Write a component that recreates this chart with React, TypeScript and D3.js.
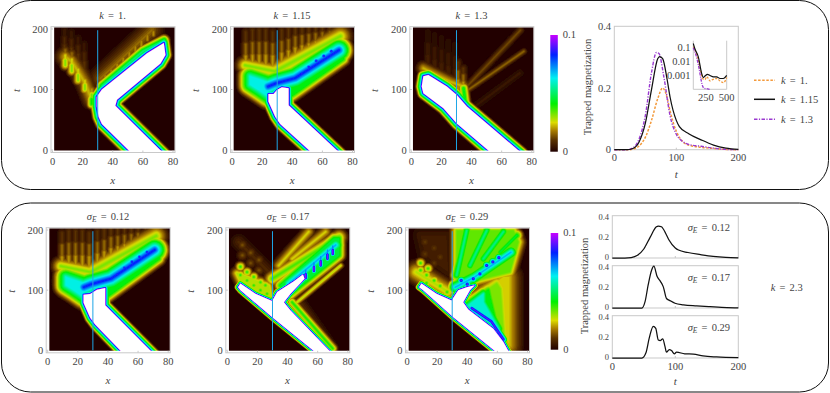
import React from "react";
import * as d3 from "d3";

type P = [number, number];
type Shape = { pts: P[]; peak: number; spread: number; closed?: boolean; core?: boolean };
const core = (pts: P[], spread: number): Shape => ({ pts, peak: 1.02, spread, closed: true, core: true });
const area = (pts: P[], peak: number, spread: number): Shape => ({ pts, peak, spread, closed: true });
const ridge = (pts: P[], peak: number, spread: number): Shape => ({ pts, peak, spread });
// each streak fades from its base (second t) to its tip (first t), in three tiers
const streaks = (list: [number, number, number][], peak: number, spread: number): Shape[] =>
  list.flatMap(([x, a, b]) => [
    { pts: [[x, a], [x, b]] as P[], peak: peak * 0.5, spread },
    { pts: [[x, b + (a - b) * 0.66], [x, b]] as P[], peak: peak * 0.78, spread },
    { pts: [[x, b + (a - b) * 0.33], [x, b]] as P[], peak, spread },
  ]);
const dots = (list: P[], peak: number, spread: number): Shape[] =>
  list.map((p) => ({ pts: [p, p] as P[], peak, spread }));

const colorStops = [0, 0.1, 0.18, 0.25, 0.41, 0.63, 0.83, 1];
const colorValues = ["#200000", "#5a3200", "#a87c00", "#dcdc00", "#00f000", "#00f0f0", "#0020ff", "#c800ff"];

const k100Shapes: Shape[] = [
  ...streaks([[8, 198, 160], [12.5, 195, 155], [17, 185, 145], [21, 175, 130]], 0.11, 2.2),
  ridge([[8.3, 154], [12.8, 146], [17.2, 129], [21.7, 110], [26, 83]], 0.24, 4.5),
  ...streaks([[8.5, 165, 140], [12.8, 160, 130], [17, 142, 115], [21.5, 122, 100]], 0.34, 2.6),
  ...streaks([[26, 100, 76]], 0.44, 2.6),
  ridge([[31.7, 118], [66, 198]], 0.17, 5.5),
  ...streaks([[35, 137, 115], [39, 146, 124], [43, 156, 134], [47, 166, 144], [51, 175, 153], [55, 185, 163], [59, 194, 172], [63, 202, 182], [67, 205, 190]], 0.21, 1.9),
  ridge([[33, 106], [60, 163], [74, 181]], 0.55, 2.8),
  core([[52.8, -6], [32.8, 43], [30.6, 55], [29.4, 72], [29.4, 88], [32.8, 100], [62.8, 160], [73.9, 177], [75, 157], [71.7, 143], [42.8, 83], [41.7, 73], [73.9, -6]], 2.8),
];

const k115Shapes: Shape[] = [
  ...streaks([[9.1, 195, 135], [13.6, 198, 135], [18, 198, 135], [22.4, 198, 135], [27, 195, 135], [33, 198, 140], [37.5, 200, 145], [42, 205, 150], [46.5, 205, 155], [51, 205, 160], [55.5, 205, 165], [60, 205, 170], [65, 205, 175]], 0.22, 2.3),
  ridge([[8.7, 140], [28.7, 130]], 0.34, 4.5),
  ridge([[28.7, 130], [72, 188]], 0.34, 5.5),
  area([[33, 116], [71, 176], [74, 176], [74, 150], [40, 90]], 0.43, 3.2),
  area([[12, 122], [24, 112], [24, 88], [17.6, 99], [12, 108]], 0.62, 5.5),
  ...dots([[12, 125], [16.5, 122], [21, 118], [25.5, 114], [30, 113]], 0.5, 3),
  ridge([[24, 105], [29, 110], [42, 119], [71, 165]], 0.86, 6.2),
  ...dots([[46, 126], [51, 137], [56, 147], [61, 155], [66, 163]], 0.92, 2.8),
  core([[53.6, -6], [32, 43], [28.7, 55], [24.2, 80], [24.2, 92.6], [27.6, 92.6], [29.8, 99], [33.1, 103.6], [37.6, 102], [37.6, 74], [72, -6]], 2.6),
];

const k130Shapes: Shape[] = [
  ...streaks([[11, 195, 135], [15.5, 190, 125], [20, 185, 120], [24.5, 180, 115], [29, 175, 110]], 0.08, 2.2),
  ...streaks([[31, 145, 100], [34.5, 135, 100]], 0.22, 2.2),
  ridge([[8, 135], [25.8, 113], [34.7, 105]], 0.24, 3.5),
  ridge([[35.8, 102], [72.4, 198]], 0.14, 1.9),
  ridge([[35.8, 96], [74.7, 163]], 0.17, 1.6),
  ridge([[39, 66], [72, 127]], 0.05, 2.4),
  ridge([[34.7, 102], [35.8, 80]], 0.46, 2.6),
  core([[73.6, -6], [36.9, 72], [30.2, 91], [23.6, 105], [11.3, 124], [8, 122], [6.9, 105], [8, 94], [21.3, 69], [30.2, 44], [53.6, -6]], 2.7),
];

const sigma12Shapes: Shape[] = [
  ...streaks([[9.5, 195, 135], [14, 198, 135], [18.5, 198, 135], [23, 198, 135], [27.5, 195, 135], [33, 198, 140], [37.5, 200, 145], [42, 205, 150], [46.5, 205, 155], [51, 205, 160], [55.5, 205, 165], [60, 205, 170], [65, 205, 175]], 0.22, 2.3),
  ridge([[8.7, 140], [28.7, 130]], 0.34, 4.5),
  ridge([[28.7, 130], [72, 190]], 0.34, 5.5),
  area([[33, 116], [71, 178], [74, 178], [74, 152], [40, 90]], 0.43, 3.2),
  area([[12, 122], [24, 112], [24, 88], [17.6, 99], [12, 108]], 0.62, 5.5),
  ...dots([[12, 125], [16.5, 122], [21, 118], [25.5, 114], [30, 113]], 0.5, 3),
  ridge([[24, 105], [29, 110], [42, 119], [71, 167]], 0.86, 6.2),
  ...dots([[46, 126], [51, 137], [56, 147], [61, 155], [66, 163]], 0.92, 2.8),
  core([[50.4, -6], [31.5, 43], [28.2, 54], [23.8, 79], [23.8, 92.5], [28.2, 93.6], [32.7, 100.8], [38.2, 103.6], [38.2, 75], [70.4, -6]], 2.5),
];

const sigma17Shapes: Shape[] = [
  ridge([[7.6, 180], [27.6, 130]], 0.09, 4),
  ...dots([[10, 175], [15.5, 162], [21, 150], [10, 158], [15.5, 145], [21, 133]], 0.15, 2.8),
  area([[6.4, 128], [27.5, 107], [28.7, 88], [18.7, 100], [8.7, 116]], 0.3, 3.2),
  ...dots([[8.7, 139], [13.1, 130], [17.6, 122], [22, 113], [8.7, 125], [13.1, 116], [17.6, 108], [22, 100], [26.4, 94], [25.3, 108]], 0.41, 2.6),
  ridge([[34.2, 141], [54, 197]], 0.26, 3.2),
  ridge([[43, 152], [65.3, 197]], 0.26, 3.2),
  ridge([[29.8, 119], [74.2, 188]], 0.38, 4),
  area([[35.3, 108], [70.9, 186], [74.2, 186], [74.2, 158], [42, 94]], 0.46, 3.2),
  area([[44.2, 83], [59.8, 19], [67.6, 0], [53, 52]], 0.14, 4.5),
  ridge([[46.4, 80], [75.3, 141]], 0.3, 1.6),
  ridge([[43, 80], [70, 3]], 0.42, 2.4),
  ridge([[40.9, 111], [72, 175]], 0.72, 4.2),
  ...streaks([[52, 140, 120], [57.5, 152, 132], [62, 163, 141], [66.5, 174, 152], [70, 180, 160]], 1, 1.5),
  core([[59.8, -6], [29.8, 55], [8.7, 100], [7.1, 105], [8.7, 111], [18.7, 94], [29.8, 82], [33.1, 97], [44.2, 115], [50.2, 126], [51.3, 119], [42, 94], [37.6, 80], [42, 66], [69.8, -6]], 1.5),
];

const sigma29Shapes: Shape[] = [
  area([[9, 191], [26.2, 191], [27.3, 130], [12, 158]], 0.06, 4.5),
  ...dots([[12, 180], [18, 170], [12, 160], [22, 155], [18, 145]], 0.12, 3),
  ridge([[6.2, 130], [27.3, 97]], 0.3, 5.5),
  ...dots([[9, 133], [13, 125], [18, 116], [22, 107], [26.6, 97], [13, 112], [9, 145], [14, 136]], 0.41, 2.6),
  area([[33, 199], [70.7, 199], [74, 180], [68.4, 130], [33, 108]], 0.34, 3.5),
  ridge([[33, 125], [39.6, 199]], 0.56, 3.2),
  ridge([[41.8, 141], [52.9, 199]], 0.56, 3.2),
  ridge([[50.7, 152], [64, 197]], 0.56, 3.2),
  ridge([[61.8, 163], [72.9, 191]], 0.48, 3.2),
  area([[41.8, 83], [64, 122], [68, 122], [68, 8], [62, 42], [48.4, 53]], 0.24, 6),
  area([[41.8, 80], [59.6, 111], [61.8, 102], [64, 25], [55, 47], [46, 61]], 0.33, 5),
  area([[41.8, 80], [54, 100], [55, 88], [60, 35], [53, 50], [46, 61]], 0.43, 4),
  area([[40.7, 75], [50.7, 94], [50.7, 80], [60.7, 36], [52.9, 53]], 0.6, 3.5),
  ridge([[32, 105], [45, 122], [69, 163]], 0.72, 3.8),
  ...dots([[36, 116], [44, 119], [48.4, 127], [52.9, 141], [57, 147], [61, 154], [40, 110]], 0.98, 2.2),
  ridge([[43, 70], [56, 48], [64, 18]], 0.95, 2),
  core([[60.7, -6], [30.7, 55], [10.7, 100], [8, 105], [9.6, 111], [19.6, 94], [29.6, 83], [34, 100], [39.6, 105], [45, 108], [41.8, 100], [37.3, 80], [40.7, 68], [57.3, 36], [64, 14], [68.4, -6]], 1.5),
];

const kSeries100: P[] = [[0, 0], [25, 0], [30, 0.002], [40, 0.012], [50, 0.04], [60, 0.095], [70, 0.165], [78, 0.2], [85, 0.17], [90, 0.125], [100, 0.06], [110, 0.027], [120, 0.015], [140, 0.008], [160, 0.004], [180, 0.001], [200, 0]];
const kSeries115: P[] = [[0, 0], [20, 0], [30, 0.004], [40, 0.025], [50, 0.085], [60, 0.195], [70, 0.295], [73, 0.302], [78, 0.295], [85, 0.23], [90, 0.17], [100, 0.095], [105, 0.075], [120, 0.052], [140, 0.032], [160, 0.015], [180, 0.005], [200, 0.001]];
const kSeries130: P[] = [[0, 0], [20, 0], [30, 0.006], [40, 0.035], [50, 0.11], [60, 0.25], [68, 0.315], [72, 0.312], [80, 0.235], [90, 0.11], [100, 0.05], [110, 0.027], [120, 0.017], [140, 0.011], [160, 0.005], [180, 0.001], [200, 0]];
const inset100: P[] = [[100, 0.12], [130, 0.05], [160, 0.012], [190, 0.002], [210, 0.0006], [240, 0.0005], [260, 0.0008], [280, 0.0006], [300, 0.0004], [330, 0.0005], [380, 0.0006], [420, 0.0004], [460, 0.0003], [490, 0.0005], [500, 0.0007]];
const inset115: P[] = [[100, 0.2], [120, 0.08], [160, 0.022], [200, 0.0014], [220, 0.0007], [240, 0.0009], [270, 0.0012], [300, 0.001], [340, 0.0008], [380, 0.0008], [420, 0.0006], [460, 0.0006], [500, 0.001]];
const inset130: P[] = [[100, 0.1], [140, 0.02], [170, 0.003], [190, 0.0006], [210, 0.00018], [230, 0.00012], [260, 0.00011], [295, 0.0001]];
const sigmaSeries12: P[] = kSeries115;
const sigmaSeries17: P[] = [[0, 0], [47, 0], [52, 0.06], [57, 0.22], [62.5, 0.36], [66, 0.395], [71, 0.3], [76.6, 0.25], [81, 0.2], [86, 0.09], [91.5, 0.07], [99.5, 0.045], [113, 0.03], [134, 0.02], [155, 0.012], [182, 0.003], [200, 0.001]];
const sigmaSeries29: P[] = [[0, 0], [47, 0], [53.4, 0.05], [58.7, 0.19], [65, 0.3], [69, 0.28], [73, 0.17], [76, 0.165], [80, 0.18], [83.6, 0.11], [86, 0.055], [90.5, 0.08], [94, 0.07], [98.5, 0.04], [102, 0.055], [115, 0.04], [128.6, 0.037], [144, 0.02], [165.6, 0.01], [200, 0.003]];

const xTicks = [0, 20, 40, 60, 80];
const tTicks = [0, 100, 200];
const magTicks = [0, 0.2, 0.4];
const insetYTicks = [0.1, 0.01, 0.001];
const insetXTicks = [250, 500];
const kTitles = ["1.", "1.15", "1.3"];
const sigmaTitles = ["0.12", "0.17", "0.29"];

const FONT = "'Liberation Serif', serif";
const INK = "#444";
const FRAME = "#c9c9c9";
const ORANGE = "#f39a3c";
const PURPLE = "#9a3ad0";
const color = d3.scaleLinear<string>().domain(colorStops).range(colorValues).interpolate(d3.interpolateRgb);
const levels = d3.range(0.02, 1.001, 0.02);

function Heat({ id, ox, y0, y200, shapes }: { id: string; ox: number; y0: number; y200: number; shapes: Shape[] }) {
  const xs = d3.scaleLinear().domain([0, 80]).range([ox, ox + 120.5]);
  const ts = d3.scaleLinear().domain([0, 200]).range([y0, y200]);
  const line = d3.line<P>().x((d) => xs(d[0])).y((d) => ts(d[1]));
  const left = xs(1.1), right = xs(81), top = y200 - 1.5, bottom = y0 + 0.5;
  const paths = shapes.map((s) => ({ ...s, d: line(s.pts)! + (s.closed ? "Z" : "") }));
  return (
    <g>
      <rect x={ox - 1.5} y={top - 0.8} width={124} height={bottom - top + 2.8} fill="none" stroke={FRAME} strokeWidth={1} />
      <clipPath id={id}><rect x={left} y={top} width={right - left} height={bottom - top} /></clipPath>
      <g clipPath={`url(#${id})`}>
        <g filter="url(#soft)">
          <rect x={left - 3} y={top - 3} width={right - left + 6} height={bottom - top + 6} fill={color(0)} />
          {levels.map((v) =>
            paths.filter((s) => v <= s.peak).map((s, i) => (
              <path key={v + "-" + i} d={s.d} fill={s.closed ? color(v) : "none"} stroke={color(v)}
                strokeWidth={2 * s.spread * 2.7 * Math.pow(1 - v / s.peak, s.core ? 1.6 : 1)} strokeLinejoin="round" strokeLinecap="round" />
            ))
          )}
          {paths.filter((s) => s.core).map((s, i) => <path key={i} d={s.d} fill="#fff" />)}
        </g>
      </g>
      <line x1={xs(30)} x2={xs(30)} y1={ts(198)} y2={ts(0)} stroke="#1ea5e6" strokeWidth={1} />
      {xTicks.map((v) => (
        <g key={v}>
          <line x1={xs(v)} x2={xs(v)} y1={bottom + 2} y2={bottom} stroke={FRAME} />
          <text x={xs(v)} y={bottom + 14} textAnchor="middle" fontSize={10.5}>{v}</text>
        </g>
      ))}
      {tTicks.map((v) => (
        <g key={v}>
          <line x1={ox - 1.5} x2={ox + 0.5} y1={ts(v)} y2={ts(v)} stroke={FRAME} />
          <text x={ox - 4.5} y={ts(v) + 3.5} textAnchor="end" fontSize={10.5}>{v}</text>
        </g>
      ))}
      <text x={xs(40)} y={bottom + 33} textAnchor="middle" fontSize={11} fontStyle="italic">x</text>
      <text transform={`translate(${ox - 33},${ts(100) + 1}) rotate(-90)`} textAnchor="middle" fontSize={11} fontStyle="italic">t</text>
    </g>
  );
}

function ColorBar({ x, top, bottom, id }: { x: number; top: number; bottom: number; id: string }) {
  const y = d3.scaleLinear().domain([0, 1]).range([bottom, top]);
  return (
    <g>
      <defs>
        <linearGradient id={id} x1="0" x2="0" y1="1" y2="0">
          {colorStops.map((s) => <stop key={s} offset={s} stopColor={color(s)} />)}
        </linearGradient>
      </defs>
      <rect x={x} y={top} width={7.5} height={bottom - top} fill={`url(#${id})`} />
      <text x={x + 12.5} y={y(1) + 3} fontSize={10.5}>0.1</text>
      <text x={x + 12.5} y={y(0) + 3} fontSize={10.5}>0</text>
    </g>
  );
}

const KLabel = ({ x, y, value, anchor = "middle" }: { x: number; y: number; value: string; anchor?: string }) => (
  <text x={x} y={y} textAnchor={anchor as any} fontSize={10.5} wordSpacing={1.5}><tspan fontStyle="italic">k</tspan> = {value}</text>
);
const SigmaLabel = ({ x, y, value, anchor = "middle" }: { x: number; y: number; value: string; anchor?: string }) => (
  <text x={x} y={y} textAnchor={anchor as any} fontSize={10.5} wordSpacing={1.5}>
    <tspan fontStyle="italic">σ</tspan><tspan fontStyle="italic" fontSize={7.5} dy={2}>E</tspan><tspan dy={-2}> = {value}</tspan>
  </text>
);

function TopLines() {
  const x = d3.scaleLinear().domain([0, 200]).range([614.3, 738.3]);
  const y = d3.scaleLinear().domain([0, 0.4]).range([149.7, 26.3]);
  const line = d3.line<P>().x((d) => x(d[0])).y((d) => y(d[1])).curve(d3.curveMonotoneX);
  const ix = d3.scaleLinear().domain([100, 500]).range([693.3, 726.7]);
  const iy = d3.scaleLog().domain([0.0001, 0.1]).range([89.3, 47.7]);
  const iline = d3.line<P>().x((d) => ix(d[0])).y((d) => iy(d[1])).curve(d3.curveMonotoneX);
  return (
    <g>
      <rect x={614.3} y={26.3} width={124} height={123.4} fill="none" stroke={FRAME} />
      {[100].map((v) => <line key={v} x1={x(v)} x2={x(v)} y1={149.7} y2={147.7} stroke={FRAME} />)}
      <path d={line(kSeries100)!} fill="none" stroke={ORANGE} strokeWidth={1.5} strokeDasharray="2.4 1.5" />
      <path d={line(kSeries130)!} fill="none" stroke={PURPLE} strokeWidth={1.4} strokeDasharray="3.5 1.4 1.2 1.4" />
      <path d={line(kSeries115)!} fill="none" stroke="#111" strokeWidth={1.25} />
      {[0, 100, 200].map((v) => <text key={v} x={x(v)} y={161} textAnchor="middle" fontSize={10.5}>{v}</text>)}
      {magTicks.map((v) => <text key={v} x={611} y={y(v) + 3.5} textAnchor="end" fontSize={10.5}>{v === 0 ? "0" : v}</text>)}
      <text x={x(100)} y={178} textAnchor="middle" fontSize={11} fontStyle="italic">t</text>
      <path d="M693.3 40.7V89.3H726.7V40.7" fill="none" stroke={FRAME} />
      <path d={iline(inset100)!} fill="none" stroke={ORANGE} strokeWidth={1.3} strokeDasharray="2.2 1.4" />
      <path d={iline(inset130)!} fill="none" stroke={PURPLE} strokeWidth={1.3} strokeDasharray="3 1.2 1 1.2" />
      <path d={iline(inset115)!} fill="none" stroke="#111" strokeWidth={1.2} />
      {insetYTicks.map((v) => <text key={v} x={690.5} y={iy(v) + 3.5} textAnchor="end" fontSize={10.5}>{v}</text>)}
      {insetXTicks.map((v) => <text key={v} x={ix(v)} y={100.5} textAnchor="middle" fontSize={10.5}>{v}</text>)}
      <line x1={754} x2={775} y1={80.3} y2={80.3} stroke={ORANGE} strokeWidth={1.6} strokeDasharray="2.5 1.6" />
      <line x1={754} x2={775} y1={99.3} y2={99.3} stroke="#111" strokeWidth={1.5} />
      <line x1={754} x2={775} y1={119.3} y2={119.3} stroke={PURPLE} strokeWidth={1.4} strokeDasharray="3.5 1.4 1.2 1.4" />
      {kTitles.map((v, i) => <KLabel key={v} x={781} y={[84, 103, 123][i]} value={v} anchor="start" />)}
    </g>
  );
}

function BottomLines() {
  const x = d3.scaleLinear().domain([0, 200]).range([612.3, 738.3]);
  const rows: { top: number; series: P[]; label: string }[] = [
    { top: 215.7, series: sigmaSeries12, label: sigmaTitles[0] },
    { top: 265.7, series: sigmaSeries17, label: sigmaTitles[1] },
    { top: 315.7, series: sigmaSeries29, label: sigmaTitles[2] },
  ];
  return (
    <g>
      {rows.map((r, i) => {
        const y = d3.scaleLinear().domain([0, 0.4]).range([r.top + 42.3, r.top]);
        const line = d3.line<P>().x((d) => x(d[0])).y((d) => y(d[1])).curve(d3.curveMonotoneX);
        return (
          <g key={i}>
            <rect x={612.3} y={r.top} width={126} height={42.3} fill="none" stroke={FRAME} />
            <line x1={x(100)} x2={x(100)} y1={r.top + 42.3} y2={r.top + 40.3} stroke={FRAME} />
            <path d={line(r.series)!} fill="none" stroke="#111" strokeWidth={1.25} />
            {magTicks.map((v) => (
              <text key={v} x={609} y={y(v) + (v === 0 ? 2.2 : v === 0.4 ? 3.8 : 3)} textAnchor="end" fontSize={8.5}>{v === 0 ? "0" : v}</text>
            ))}
            <SigmaLabel x={730} y={r.top + 15} value={r.label} anchor="end" />
          </g>
        );
      })}
      {tTicks.map((v) => <text key={v} x={x(v)} y={369.5} textAnchor="middle" fontSize={10.5}>{v}</text>)}
      <text x={x(100)} y={385} textAnchor="middle" fontSize={11} fontStyle="italic">t</text>
    </g>
  );
}

export default function App() {
  return (
    <svg width={830} height={393} viewBox="0 0 830 393" style={{ position: "fixed", left: 0, top: 0, background: "#fff" }} fontFamily={FONT} fill={INK}>
      <defs>
        <filter id="soft" x="-5%" y="-5%" width="110%" height="110%"><feGaussianBlur stdDeviation="0.65" /></filter>
      </defs>
      <rect x={1.5} y={0.5} width={827} height={189} rx={29} fill="none" stroke="#111" strokeWidth={1} />
      <rect x={1.5} y={203} width={827} height={189} rx={29} fill="none" stroke="#111" strokeWidth={1} />

      <Heat id="h1" ox={52.5} y0={150} y200={29} shapes={k100Shapes} />
      <Heat id="h2" ox={232} y0={150} y200={29} shapes={k115Shapes} />
      <Heat id="h3" ox={411.3} y0={150} y200={29} shapes={k130Shapes} />
      <Heat id="h4" ox={47.7} y0={350.3} y200={230} shapes={sigma12Shapes} />
      <Heat id="h5" ox={227.3} y0={350.3} y200={230} shapes={sigma17Shapes} />
      <Heat id="h6" ox={407} y0={350.3} y200={230} shapes={sigma29Shapes} />

      {kTitles.map((v, i) => <KLabel key={v} x={[112.5, 292, 471.5][i]} y={19} value={v} />)}
      {sigmaTitles.map((v, i) => <SigmaLabel key={v} x={[108, 288, 467][i]} y={220} value={v} />)}

      <ColorBar id="cb1" x={550.3} top={35} bottom={151.7} />
      <ColorBar id="cb2" x={550.7} top={233} bottom={349.7} />
      <text transform="translate(591,87) rotate(-90)" textAnchor="middle" fontSize={10.5}>Trapped magnetization</text>
      <text transform="translate(588,286) rotate(-90)" textAnchor="middle" fontSize={10.5}>Trapped magnetization</text>

      <TopLines />
      <BottomLines />
      <KLabel x={786.7} y={290.5} value="2.3" />
    </svg>
  );
}
